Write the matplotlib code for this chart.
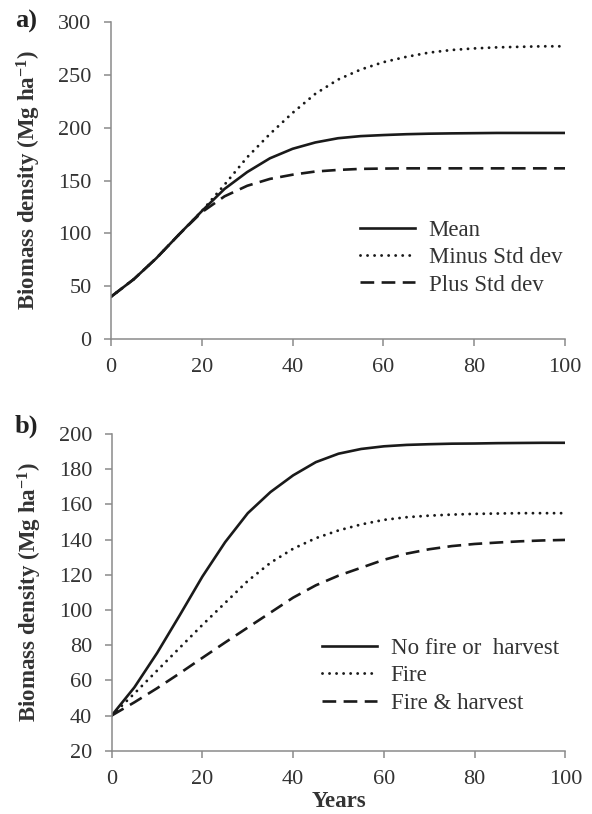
import matplotlib
matplotlib.use("Agg")
from matplotlib import pyplot as plt

plt.rcParams['font.family'] = ['Liberation Serif', 'DejaVu Serif']
plt.rcParams['mathtext.fontset'] = 'custom'
plt.rcParams['mathtext.bf'] = 'Liberation Serif:bold'
plt.rcParams['mathtext.rm'] = 'Liberation Serif:bold'
plt.rcParams['mathtext.default'] = 'bf'

# biomass trajectories, Mg/ha, read every 5 years
years = [0, 5, 10, 15, 20, 25, 30, 35, 40, 45, 50, 55, 60, 65, 70, 75, 80, 85, 90, 95, 100]

mean = [40, 56.5, 76.5, 99, 121, 142, 158, 171, 180, 186, 190, 192, 193, 193.8, 194.3,
        194.6, 194.8, 195, 195, 195, 195]
minus_sd = [40, 56.5, 76.5, 99, 121, 146, 172, 194, 214, 232, 245.5, 255, 262, 267, 271,
            273.5, 275, 276, 276.5, 277, 277]
plus_sd = [40, 56.5, 76.5, 99, 120, 135, 145, 151.5, 155.5, 158.5, 160, 161, 161.3, 161.5,
           161.5, 161.5, 161.5, 161.5, 161.5, 161.5, 161.5]

no_fire = [40, 56, 75.5, 97, 119, 138.5, 155, 167, 176.5, 184, 188.8, 191.5, 193, 193.8,
           194.2, 194.5, 194.6, 194.8, 194.9, 195, 195]
fire = [40, 52.5, 65.5, 78.5, 91.5, 104, 116.5, 126.8, 134.8, 140.8, 145.2, 148.6, 151.2,
        152.7, 153.6, 154.2, 154.6, 154.8, 155, 155, 155]
fire_harvest = [40, 47.5, 55.5, 64, 72.8, 81.5, 90, 98.5, 107, 114, 119.5, 124, 128.5, 132,
                134.5, 136.3, 137.5, 138.3, 139, 139.5, 139.8]

labels_a = ['Mean', 'Minus Std dev', 'Plus Std dev']
labels_b = ['No fire or  harvest', 'Fire', 'Fire & harvest']

W, H = 592, 814
fig = plt.figure(figsize=(W / 100, H / 100), dpi=100)

ax1 = fig.add_axes([111 / W, 1 - 339 / H, 454 / W, 317 / H])
ax2 = fig.add_axes([111.7 / W, 1 - 750.7 / H, 453.6 / W, 316.7 / H])

lw = 1.9
ink = '#1a1a1a'
solid_kw = dict(color=ink, lw=lw)
dot_kw = dict(color=ink, lw=lw + 0.2, linestyle=(0, (0.01, 2.4)), dash_capstyle='round')
dash_kw = dict(color=ink, lw=lw, linestyle=(0, (5.2, 2.8)))


def style(ax, ylim, yticks):
    ax.set_xlim(0, 100)
    ax.set_ylim(*ylim)
    ax.set_xticks(range(0, 101, 20))
    ax.set_yticks(yticks)
    for s in ['top', 'right']:
        ax.spines[s].set_visible(False)
    for s in ['left', 'bottom']:
        ax.spines[s].set_color('#8a8a8a')
        ax.spines[s].set_linewidth(1.1)
    ax.tick_params(axis='both', colors='#8a8a8a', labelcolor='#333333', labelsize=16,
                   length=5, width=1.1, direction='out')
    ax.tick_params(axis='x', pad=9)
    ax.tick_params(axis='y', pad=9)
    ax.set_ylabel('Biomass density (Mg ha$^{-1}$)', fontsize=16.5, fontweight='bold',
                  color='#333333')
    ax.yaxis.set_label_coords(-0.15, 0.5)


def legend(ax, x, y):
    ax.legend(loc='center left', bbox_to_anchor=(x, y), frameon=False, fontsize=16.5,
              handlelength=2.4, handletextpad=0.6, labelspacing=0.28, borderpad=0,
              borderaxespad=0, labelcolor='#333333')


ax1.plot(years, mean, label=labels_a[0], **solid_kw)
ax1.plot(years, minus_sd, label=labels_a[1], **dot_kw)
ax1.plot(years, plus_sd, label=labels_a[2], **dash_kw)
style(ax1, (0, 300), range(0, 301, 50))
legend(ax1, 0.548, 0.257)

ax2.plot(years, no_fire, label=labels_b[0], **solid_kw)
ax2.plot(years, fire, label=labels_b[1], **dot_kw)
ax2.plot(years, fire_harvest, label=labels_b[2], **dash_kw)
style(ax2, (20, 200), range(20, 201, 20))
legend(ax2, 0.4636, 0.236)
ax2.set_xlabel('Years', fontsize=16.5, fontweight='bold', color='#333333', labelpad=1)

fig.text(15 / W, 1 - 28 / H, 'a)', fontsize=19, fontweight='bold', va='baseline',
         color='#222222')
fig.text(15 / W, 1 - 433 / H, 'b)', fontsize=19, fontweight='bold', va='baseline',
         color='#222222')

fig.savefig('out.png', dpi=100, facecolor='white')
